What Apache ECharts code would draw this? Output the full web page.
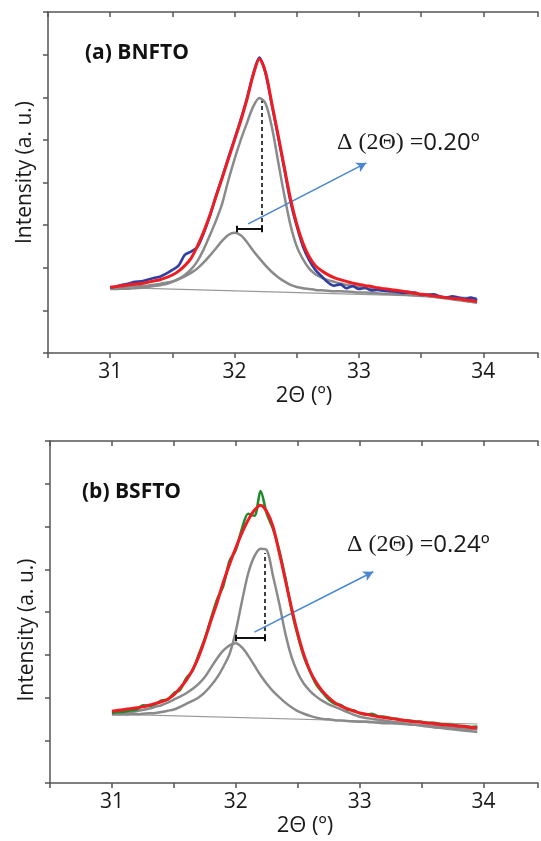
<!DOCTYPE html>
<html><head><meta charset="utf-8">
<script src="https://cdn.jsdelivr.net/npm/echarts@6/dist/echarts.min.js"></script>
<style>html,body{margin:0;padding:0;background:#fff}#c{width:541px;height:841px}</style>
</head><body><div id="c"></div>
<script>
// 2Θ sampling positions (degrees)
const twoTheta = [31.00,31.05,31.10,31.15,31.20,31.25,31.30,31.35,31.40,31.45,
  31.50,31.55,31.60,31.65,31.70,31.75,31.80,31.85,31.90,31.95,
  32.00,32.05,32.10,32.15,32.20,32.25,32.30,32.35,32.40,32.45,
  32.50,32.55,32.60,32.65,32.70,32.75,32.80,32.85,32.90,32.95,
  33.00,33.05,33.10,33.15,33.20,33.25,33.30,33.35,33.40,33.45,
  33.50,33.55,33.60,33.65,33.70,33.75,33.80,33.85,33.90,33.95];

// (a) BNFTO
const bnftoData = [1.54,1.56,1.60,1.63,1.67,1.68,1.72,1.76,1.79,1.86,
  1.95,2.05,2.30,2.38,2.48,2.80,3.20,3.68,4.12,4.58,
  5.02,5.48,5.98,6.55,6.93,6.55,5.82,5.08,4.32,3.55,
  2.98,2.50,2.18,1.95,1.80,1.66,1.58,1.61,1.52,1.57,
  1.50,1.53,1.47,1.48,1.46,1.45,1.44,1.41,1.42,1.42,
  1.36,1.37,1.38,1.33,1.30,1.33,1.30,1.27,1.30,1.24];
const bnftoFit = [1.54,1.56,1.58,1.60,1.62,1.63,1.66,1.69,1.72,1.77,
  1.83,1.92,2.05,2.22,2.50,2.83,3.22,3.66,4.10,4.55,
  5.00,5.45,5.95,6.52,6.90,6.58,5.85,5.12,4.36,3.62,
  3.03,2.58,2.26,2.05,1.93,1.84,1.77,1.72,1.68,1.64,
  1.61,1.58,1.56,1.53,1.51,1.49,1.47,1.45,1.43,1.40,
  1.38,1.36,1.34,1.32,1.30,1.28,1.27,1.25,1.23,1.21];
const bnftoPeakMain = [1.50,1.50,1.51,1.51,1.52,1.53,1.55,1.57,1.59,1.62,
  1.67,1.74,1.83,1.96,2.15,2.42,2.75,3.10,3.50,4.05,
  4.55,5.00,5.40,5.78,5.98,5.85,5.30,4.50,3.70,3.00,
  2.50,2.20,1.98,1.85,1.77,1.71,1.67,1.63,1.60,1.57,
  1.55,1.52,1.50,1.49,1.47,1.45,1.43,1.42,1.40,1.38,
  1.36,1.34,1.32,1.30,1.28,1.26,1.24,1.22,1.20,1.18];
const bnftoPeakSmall = [1.54,1.54,1.55,1.56,1.57,1.57,1.58,1.60,1.62,1.65,
  1.68,1.73,1.80,1.88,1.98,2.12,2.28,2.45,2.63,2.77,
  2.82,2.76,2.60,2.40,2.22,2.05,1.90,1.78,1.68,1.60,
  1.55,1.52,1.50,1.48,1.47,1.46,1.45,1.45,1.44,1.43,
  1.42,1.42,1.41,1.40,1.39,1.39,1.38,1.37,1.36,1.35,
  1.34,1.33,1.32,1.31,1.30,1.28,1.27,1.26,1.24,1.22];
const bnftoBaseX = [31.00, 33.95];
const bnftoBaseY = [1.54, 1.30];
const bnftoPeakPos = [32.02, 32.215];   // bracket ends
const bnftoBracketY = 2.91;
const bnftoDashTop = 5.92;
const bnftoArrow = [[32.11, 3.03], [33.06, 4.46]];

// (b) BSFTO
const bsftoData = [1.64,1.66,1.67,1.70,1.72,1.82,1.80,1.84,1.93,1.95,
  2.10,2.18,2.45,2.62,3.00,3.38,3.85,4.30,4.62,5.20,
  5.45,5.95,6.30,6.25,6.83,6.30,5.95,5.45,4.80,4.05,
  3.45,2.95,2.60,2.30,2.12,1.95,1.85,1.82,1.72,1.70,
  1.63,1.60,1.62,1.56,1.55,1.52,1.50,1.47,1.46,1.44,
  1.43,1.41,1.41,1.38,1.37,1.36,1.34,1.33,1.31,1.32];
const bsftoFit = [1.68,1.70,1.72,1.74,1.76,1.78,1.82,1.86,1.90,1.96,
  2.06,2.22,2.40,2.64,2.95,3.35,3.80,4.23,4.70,5.12,
  5.50,5.85,6.15,6.38,6.50,6.35,6.00,5.40,4.75,4.10,
  3.50,3.00,2.62,2.35,2.15,2.00,1.88,1.80,1.74,1.68,
  1.64,1.61,1.58,1.55,1.53,1.51,1.49,1.47,1.45,1.43,
  1.42,1.40,1.39,1.37,1.36,1.35,1.33,1.32,1.30,1.29];
const bsftoPeakMain = [1.60,1.60,1.60,1.61,1.61,1.62,1.63,1.64,1.66,1.69,
  1.72,1.78,1.85,1.92,2.00,2.12,2.28,2.47,2.72,3.02,
  3.55,4.25,4.90,5.30,5.48,5.45,4.85,4.21,3.50,2.95,
  2.58,2.32,2.15,2.02,1.92,1.84,1.78,1.72,1.66,1.60,
  1.55,1.52,1.50,1.48,1.46,1.44,1.42,1.40,1.38,1.36,
  1.34,1.32,1.30,1.29,1.27,1.26,1.24,1.22,1.21,1.19];
const bsftoPeakSmall = [1.62,1.63,1.64,1.66,1.68,1.71,1.74,1.78,1.82,1.88,
  1.95,2.02,2.10,2.20,2.32,2.48,2.70,2.92,3.10,3.22,
  3.27,3.17,2.98,2.75,2.52,2.32,2.15,2.01,1.88,1.77,
  1.68,1.62,1.57,1.53,1.50,1.49,1.47,1.46,1.45,1.44,
  1.43,1.43,1.42,1.41,1.40,1.40,1.39,1.38,1.37,1.36,
  1.35,1.34,1.33,1.32,1.31,1.30,1.28,1.27,1.26,1.25];
const bsftoBaseX = [31.00, 33.95];
const bsftoBaseY = [1.61, 1.38];
const bsftoPeakPos = [32.00, 32.23];
const bsftoBracketY = 3.39;
const bsftoDashTop = 5.38;
const bsftoArrow = [[32.15, 3.53], [33.11, 4.94]];

const xTicks = [31, 32, 33, 34];

const pair = (xs, ys) => xs.map((x, i) => [x, ys[i]]);
const AX = '#555';
const TXT = '#1a1a1a';
const FONT = 'Open Sans';

function xAxes(g) {
  return [{
    gridIndex: g, type: 'value', min: 30.5, max: 34.44, interval: 0.5, position: 'bottom',
    axisLine: {show: true, lineStyle: {color: AX, width: 1.5}},
    axisTick: {show: true, length: 5, lineStyle: {color: AX, width: 1.5}},
    axisLabel: {fontSize: 21, color: TXT, fontFamily: FONT, margin: 9,
      formatter: v => xTicks.includes(v) ? String(v) : ''},
    splitLine: {show: false},
    name: '2Θ (º)', nameLocation: 'middle', nameGap: 32,
    nameTextStyle: {fontSize: 22, color: TXT, fontFamily: FONT, padding: [0, 0, 0, 22]}
  }, {
    gridIndex: g, type: 'value', min: 30.5, max: 34.44, interval: 0.5, position: 'top',
    axisLine: {show: true, lineStyle: {color: AX, width: 1.5}},
    axisTick: {show: true, inside: true, length: 5, lineStyle: {color: AX, width: 1.5}},
    axisLabel: {show: false}, splitLine: {show: false}
  }];
}
function yAxis(g, pad) {
  return {
    gridIndex: g, type: 'value', min: 0, max: 8, interval: 1,
    axisLine: {show: true, lineStyle: {color: AX, width: 1.5}},
    axisTick: {show: true, length: 5, lineStyle: {color: AX, width: 1.5}},
    axisLabel: {show: false}, splitLine: {show: false},
    name: 'Intensity (a. u.)', nameLocation: 'middle', nameGap: 12,
    nameTextStyle: {fontSize: 21, color: TXT, fontFamily: FONT, padding: pad}
  };
}
function line(name, xi, yi, data, color, width, z) {
  return {name, type: 'line', xAxisIndex: xi, yAxisIndex: yi, data, showSymbol: false,
    symbol: 'none', smooth: 0.3, lineStyle: {color, width}, z, silent: true};
}
function annot(xi, yi, pos, by, dashTop, arrow) {
  const c = 0.075;
  return [{
    type: 'line', xAxisIndex: xi, yAxisIndex: yi, data: [], silent: true, z: 6,
    markLine: {silent: true, symbol: ['none', 'none'], label: {show: false},
      lineStyle: {color: '#111', width: 2, type: 'solid'},
      data: [
        [{coord: [pos[0], by]}, {coord: [pos[1], by]}],
        [{coord: [pos[0], by - c]}, {coord: [pos[0], by + c]}],
        [{coord: [pos[1], by - c]}, {coord: [pos[1], by + c]}]
      ]}
  }, {
    type: 'line', xAxisIndex: xi, yAxisIndex: yi, data: [], silent: true, z: 6,
    markLine: {silent: true, symbol: ['none', 'none'], label: {show: false},
      lineStyle: {color: '#111', width: 1.6, type: [4, 3]},
      data: [[{coord: [pos[1], by]}, {coord: [pos[1], dashTop]}]]}
  }, {
    type: 'line', xAxisIndex: xi, yAxisIndex: yi, data: [], silent: true, z: 7,
    markLine: {silent: true, symbol: ['none', 'arrow'], symbolSize: [8, 10], label: {show: false},
      lineStyle: {color: '#4a87cf', width: 1.6, type: 'solid'},
      data: [[{coord: arrow[0]}, {coord: arrow[1]}]]}
  }];
}

const series = [
  line('baseline a', 0, 0, pair(bnftoBaseX, bnftoBaseY), '#999', 1.2, 2),
  line('peak 1 a', 0, 0, pair(twoTheta, bnftoPeakSmall), '#8a8a8a', 2.5, 3),
  line('peak 2 a', 0, 0, pair(twoTheta, bnftoPeakMain), '#8a8a8a', 2.5, 3),
  line('data a', 0, 0, pair(twoTheta, bnftoData), '#2f3ea3', 2.6, 4),
  line('fit a', 0, 0, pair(twoTheta, bnftoFit), '#ee1d23', 3, 5),
  ...annot(0, 0, bnftoPeakPos, bnftoBracketY, bnftoDashTop, bnftoArrow),
  line('baseline b', 2, 1, pair(bsftoBaseX, bsftoBaseY), '#999', 1.2, 2),
  line('peak 1 b', 2, 1, pair(twoTheta, bsftoPeakSmall), '#8a8a8a', 2.5, 3),
  line('peak 2 b', 2, 1, pair(twoTheta, bsftoPeakMain), '#8a8a8a', 2.5, 3),
  line('data b', 2, 1, pair(twoTheta, bsftoData), '#1f8a2c', 2.6, 4),
  line('fit b', 2, 1, pair(twoTheta, bsftoFit), '#ee1d23', 3, 5),
  ...annot(2, 1, bsftoPeakPos, bsftoBracketY, bsftoDashTop, bsftoArrow)
];

function label(x, y, a, b) {
  return {type: 'text', x, y, z: 10, silent: true, style: {
    text: '{s|' + a + '}{n|' + b + '}', verticalAlign: 'middle',
    rich: {s: {fontFamily: 'Liberation Serif', fontSize: 24, fill: TXT},
           n: {fontFamily: FONT, fontSize: 24, fill: TXT}}}};
}
function title(x, y, t) {
  return {type: 'text', x, y, z: 10, silent: true, style: {
    text: t, verticalAlign: 'middle', fontFamily: FONT, fontWeight: 'bold', fontSize: 21, fill: '#111'}};
}

const chart = echarts.init(document.getElementById('c'), null, {renderer: 'canvas'});
chart.setOption({
  animation: false,
  backgroundColor: '#fff',
  grid: [
    {left: 48, top: 12, right: 0, height: 341},
    {left: 50, top: 441, right: 0, height: 342}
  ],
  xAxis: [...xAxes(0), ...xAxes(1)],
  yAxis: [yAxis(0, [0, 0, 0, 20]), yAxis(1, [0, 36, 0, 0])],
  series,
  graphic: [
    title(85, 53, '(a) BNFTO'),
    title(82, 492, '(b) BSFTO'),
    label(337, 143, 'Δ (2Θ) =', '0.20º'),
    label(347, 545, 'Δ (2Θ) =', '0.24º')
  ]
});
</script></body></html>
